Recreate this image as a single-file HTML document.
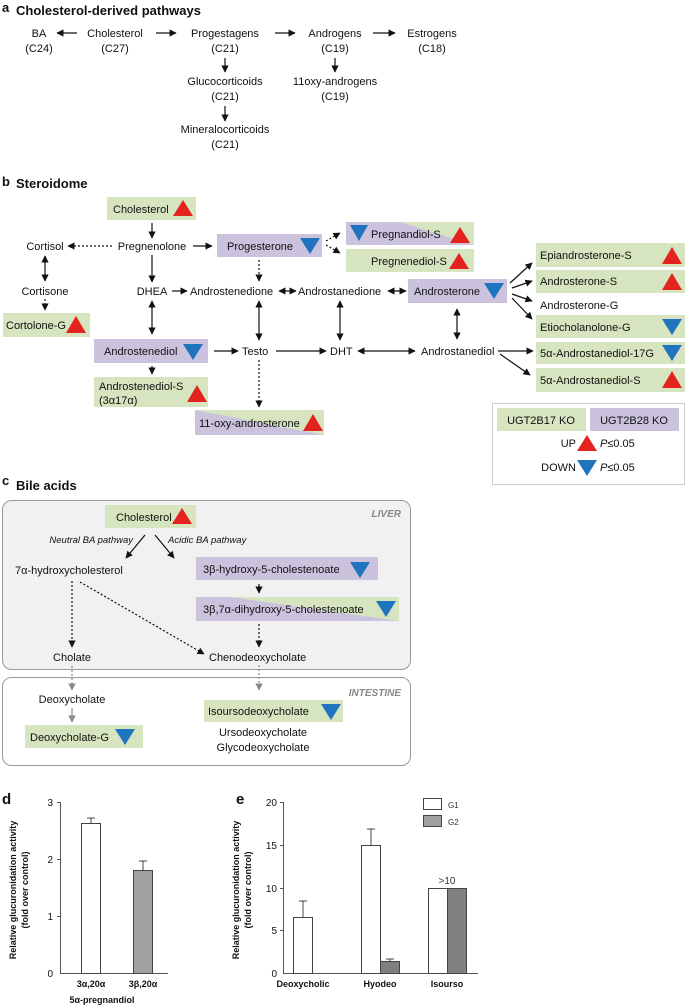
<!DOCTYPE html>
<html><head><meta charset="utf-8"><style>
html,body{margin:0;padding:0;background:#fff}
svg{display:block}
text{font-family:"Liberation Sans",Arial,sans-serif;fill:#111}
.t{font-size:11px}
.h{font-size:13px;font-weight:bold}
.it{font-size:9.5px;font-style:italic}
.ax{font-size:10px;fill:#333}
.bx{font-size:9px;font-weight:bold}
</style></head><body>
<svg width="685" height="1006" viewBox="0 0 685 1006" xmlns="http://www.w3.org/2000/svg">
<defs>
<marker id="a" viewBox="0 0 10 10" refX="9" refY="5" markerWidth="6" markerHeight="6" orient="auto-start-reverse"><path d="M0,0L10,5L0,10z" fill="#111"/></marker>
<marker id="g" viewBox="0 0 10 10" refX="9" refY="5" markerWidth="6" markerHeight="6" orient="auto-start-reverse"><path d="M0,0L10,5L0,10z" fill="#888"/></marker>
</defs>
<g stroke="#111" stroke-width="1.2" fill="none">
</g>
<!-- Part a -->
<text x="2" y="12" class="h">a</text>
<text x="16" y="15" class="h">Cholesterol-derived pathways</text>
<g class="t" text-anchor="middle">
<text x="39" y="37">BA</text><text x="39" y="52">(C24)</text>
<text x="115" y="37">Cholesterol</text><text x="115" y="52">(C27)</text>
<text x="225" y="37">Progestagens</text><text x="225" y="52">(C21)</text>
<text x="335" y="37">Androgens</text><text x="335" y="52">(C19)</text>
<text x="432" y="37">Estrogens</text><text x="432" y="52">(C18)</text>
<text x="225" y="85">Glucocorticoids</text><text x="225" y="100">(C21)</text>
<text x="335" y="85">11oxy-androgens</text><text x="335" y="100">(C19)</text>
<text x="225" y="133">Mineralocorticoids</text><text x="225" y="148">(C21)</text>
</g>
<g stroke="#111" stroke-width="1.2" fill="none" marker-end="url(#a)">
<line x1="77" y1="33" x2="57" y2="33"/>
<line x1="156" y1="33" x2="176" y2="33"/>
<line x1="275" y1="33" x2="295" y2="33"/>
<line x1="373" y1="33" x2="395" y2="33"/>
<line x1="225" y1="58" x2="225" y2="72"/>
<line x1="335" y1="58" x2="335" y2="72"/>
<line x1="225" y1="106" x2="225" y2="121"/>
</g>

<!-- Part b -->
<text x="2" y="186" class="h">b</text>
<text x="16" y="188" class="h">Steroidome</text>
<!-- boxes -->
<g>
<rect x="107" y="197" width="89" height="23" fill="#d6e4c0"/>
<rect x="217" y="234" width="105" height="23" fill="#cbc3de"/>
<rect x="346" y="222" width="128" height="23" fill="#cbc3de"/>
<polygon points="400,222 474,222 474,245" fill="#d6e4c0"/>
<rect x="346" y="249" width="128" height="23" fill="#d6e4c0"/>
<rect x="3" y="313" width="87" height="24" fill="#d6e4c0"/>
<rect x="94" y="339" width="114" height="24" fill="#cbc3de"/>
<rect x="94" y="377" width="114" height="30" fill="#d6e4c0"/>
<rect x="408" y="279" width="99" height="24" fill="#cbc3de"/>
<rect x="195" y="410" width="129" height="25" fill="#cbc3de"/>
<polygon points="195,410 324,410 324,435" fill="#d6e4c0"/>
<rect x="536" y="243" width="149" height="24" fill="#d6e4c0"/>
<rect x="536" y="270" width="149" height="23" fill="#d6e4c0"/>
<rect x="536" y="315" width="149" height="23" fill="#d6e4c0"/>
<rect x="536" y="342" width="149" height="22" fill="#d6e4c0"/>
<rect x="536" y="368" width="149" height="24" fill="#d6e4c0"/>
</g>
<!-- triangles -->
<g>
<polygon points="183,200 193,216 173,216" fill="#e4231f"/>
<polygon points="300,238 320,238 310,254" fill="#1f74bd"/>
<polygon points="350,225 368,225 359,241" fill="#1f74bd"/>
<polygon points="460,227 470,243 450,243" fill="#e4231f"/>
<polygon points="459,253 469,269 449,269" fill="#e4231f"/>
<polygon points="76,316 86,333 66,333" fill="#e4231f"/>
<polygon points="183,344 203,344 193,360" fill="#1f74bd"/>
<polygon points="197,385 207,402 187,402" fill="#e4231f"/>
<polygon points="484,283 504,283 494,299" fill="#1f74bd"/>
<polygon points="313,414 323,431 303,431" fill="#e4231f"/>
<polygon points="672,247 682,264 662,264" fill="#e4231f"/>
<polygon points="672,273 682,290 662,290" fill="#e4231f"/>
<polygon points="662,319 682,319 672,335" fill="#1f74bd"/>
<polygon points="662,345 682,345 672,361" fill="#1f74bd"/>
<polygon points="672,371 682,388 662,388" fill="#e4231f"/>
</g>
<g class="t">
<text x="113" y="213">Cholesterol</text>
<text x="152" y="250" text-anchor="middle">Pregnenolone</text>
<text x="45" y="250" text-anchor="middle">Cortisol</text>
<text x="227" y="250">Progesterone</text>
<text x="371" y="238">Pregnandiol-S</text>
<text x="371" y="265">Pregnenediol-S</text>
<text x="45" y="295" text-anchor="middle">Cortisone</text>
<text x="6" y="329">Cortolone-G</text>
<text x="152" y="295" text-anchor="middle">DHEA</text>
<text x="190" y="295">Androstenedione</text>
<text x="298" y="295">Androstanedione</text>
<text x="414" y="295">Androsterone</text>
<text x="104" y="355">Androstenediol</text>
<text x="242" y="355">Testo</text>
<text x="330" y="355">DHT</text>
<text x="421" y="355">Androstanediol</text>
<text x="99" y="390">Androstenediol-S</text>
<text x="99" y="404">(3α17α)</text>
<text x="199" y="427">11-oxy-androsterone</text>
<text x="540" y="259">Epiandrosterone-S</text>
<text x="540" y="285">Androsterone-S</text>
<text x="540" y="309">Androsterone-G</text>
<text x="540" y="331">Etiocholanolone-G</text>
<text x="540" y="357">5α-Androstanediol-17G</text>
<text x="540" y="384">5α-Androstanediol-S</text>
</g>
<g stroke="#111" stroke-width="1.2" fill="none" marker-end="url(#a)">
<line x1="152" y1="223" x2="152" y2="238"/>
<line x1="112" y1="246" x2="68" y2="246" stroke-dasharray="2,2"/>
<line x1="193" y1="246" x2="212" y2="246"/>
<line x1="152" y1="255" x2="152" y2="282"/>
<line x1="45" y1="256" x2="45" y2="281" marker-start="url(#a)"/>
<line x1="45" y1="299" x2="45" y2="310" stroke-dasharray="2,2"/>
<line x1="259" y1="260" x2="259" y2="281" stroke-dasharray="2,2"/>
<line x1="326" y1="241" x2="340" y2="233" stroke-dasharray="2,2"/>
<line x1="326" y1="245" x2="340" y2="253" stroke-dasharray="2,2"/>
<line x1="172" y1="291" x2="187" y2="291"/>
<line x1="279" y1="291" x2="296" y2="291" marker-start="url(#a)"/>
<line x1="152" y1="301" x2="152" y2="334" marker-start="url(#a)"/>
<line x1="259" y1="301" x2="259" y2="340" marker-start="url(#a)"/>
<line x1="340" y1="301" x2="340" y2="340" marker-start="url(#a)"/>
<line x1="388" y1="291" x2="406" y2="291" marker-start="url(#a)"/>
<line x1="457" y1="309" x2="457" y2="339" marker-start="url(#a)"/>
<line x1="214" y1="351" x2="238" y2="351"/>
<line x1="276" y1="351" x2="326" y2="351"/>
<line x1="358" y1="351" x2="415" y2="351" marker-start="url(#a)"/>
<line x1="152" y1="366" x2="152" y2="374"/>
<line x1="259" y1="360" x2="259" y2="407" stroke-dasharray="2,2"/>
<line x1="510" y1="283" x2="532" y2="263"/>
<line x1="512" y1="288" x2="532" y2="281"/>
<line x1="512" y1="294" x2="532" y2="301"/>
<line x1="512" y1="298" x2="532" y2="319"/>
<line x1="498" y1="351" x2="533" y2="351"/>
<line x1="500" y1="354" x2="530" y2="375"/>
</g>
<!-- legend -->
<rect x="492.5" y="403.5" width="192" height="81" fill="#fff" stroke="#ccc"/>
<rect x="497" y="408" width="89" height="23" fill="#d6e4c0"/>
<rect x="590" y="408" width="89" height="23" fill="#cbc3de"/>
<g class="t">
<text x="541" y="424" text-anchor="middle">UGT2B17 KO</text>
<text x="634" y="424" text-anchor="middle">UGT2B28 KO</text>
<text x="576" y="447" text-anchor="end">UP</text>
<text x="600" y="447"><tspan font-style="italic">P</tspan>≤0.05</text>
<text x="576" y="471" text-anchor="end">DOWN</text>
<text x="600" y="471"><tspan font-style="italic">P</tspan>≤0.05</text>
</g>
<polygon points="587,435 597,451 577,451" fill="#e4231f"/>
<polygon points="577,460 597,460 587,476" fill="#1f74bd"/>

<!-- Part c -->
<text x="2" y="485" class="h">c</text>
<text x="16" y="490" class="h">Bile acids</text>
<rect x="2.5" y="500.5" width="408" height="169" rx="9" fill="#f1f1f1" stroke="#999"/>
<rect x="2.5" y="677.5" width="408" height="88" rx="9" fill="#fff" stroke="#999"/>
<text x="401" y="517" text-anchor="end" style="font-size:10px;font-weight:bold;font-style:italic;fill:#888">LIVER</text>
<text x="401" y="696" text-anchor="end" style="font-size:10px;font-weight:bold;font-style:italic;fill:#888">INTESTINE</text>
<rect x="105" y="505" width="91" height="23" fill="#d6e4c0"/>
<rect x="196" y="557" width="182" height="23" fill="#cbc3de"/>
<rect x="196" y="597" width="203" height="24" fill="#cbc3de"/>
<polygon points="230,597 399,597 399,621" fill="#d6e4c0"/>
<rect x="25" y="725" width="118" height="23" fill="#d6e4c0"/>
<rect x="204" y="700" width="139" height="22" fill="#d6e4c0"/>
<polygon points="182,508 192,524 172,524" fill="#e4231f"/>
<polygon points="350,562 370,562 360,578" fill="#1f74bd"/>
<polygon points="376,601 396,601 386,617" fill="#1f74bd"/>
<polygon points="115,729 135,729 125,745" fill="#1f74bd"/>
<polygon points="321,704 341,704 331,720" fill="#1f74bd"/>
<g class="t">
<text x="116" y="521">Cholesterol</text>
<text x="133" y="543" text-anchor="end" class="it">Neutral BA pathway</text>
<text x="168" y="543" class="it">Acidic BA pathway</text>
<text x="15" y="574">7α-hydroxycholesterol</text>
<text x="203" y="573">3β-hydroxy-5-cholestenoate</text>
<text x="203" y="613">3β,7α-dihydroxy-5-cholestenoate</text>
<text x="72" y="661" text-anchor="middle">Cholate</text>
<text x="209" y="661">Chenodeoxycholate</text>
<text x="72" y="703" text-anchor="middle">Deoxycholate</text>
<text x="30" y="741">Deoxycholate-G</text>
<text x="208" y="715">Isoursodeoxycholate</text>
<text x="263" y="736" text-anchor="middle">Ursodeoxycholate</text>
<text x="263" y="751" text-anchor="middle">Glycodeoxycholate</text>
</g>
<g stroke="#111" stroke-width="1.2" fill="none" marker-end="url(#a)">
<line x1="145" y1="535" x2="126" y2="558"/>
<line x1="155" y1="535" x2="174" y2="558"/>
<line x1="72" y1="581" x2="72" y2="647" stroke-dasharray="2,2"/>
<line x1="80" y1="582" x2="204" y2="654" stroke-dasharray="2,2"/>
<line x1="259" y1="584" x2="259" y2="593"/>
<line x1="259" y1="624" x2="259" y2="647" stroke-dasharray="2,2"/>
</g>
<g stroke="#888" stroke-width="1.2" fill="none" marker-end="url(#g)">
<line x1="72" y1="666" x2="72" y2="690" stroke-dasharray="2,2"/>
<line x1="72" y1="708" x2="72" y2="722"/>
<line x1="259" y1="665" x2="259" y2="690" stroke-dasharray="2,2"/>
</g>

<!-- Part d -->
<text x="2" y="804" class="h" style="font-size:15px">d</text>
<g stroke="#555" stroke-width="1" fill="none">
<line x1="60.5" y1="802" x2="60.5" y2="973.5"/>
<line x1="60" y1="973.5" x2="168" y2="973.5"/>
<line x1="57" y1="802.5" x2="60" y2="802.5"/><line x1="57" y1="859.5" x2="60" y2="859.5"/><line x1="57" y1="916.5" x2="60" y2="916.5"/>
</g>
<g class="ax" text-anchor="end">
<text x="53" y="806">3</text><text x="53" y="863">2</text><text x="53" y="920">1</text><text x="53" y="977">0</text>
</g>
<rect x="81.5" y="823.5" width="19" height="150" fill="#fff" stroke="#444"/>
<path d="M91,823V818M87,818H95" stroke="#444" fill="none"/>
<rect x="133.5" y="870.5" width="19" height="103" fill="#a0a0a0" stroke="#444"/>
<path d="M143,870V861M139,861H147" stroke="#444" fill="none"/>
<text x="91" y="987" class="bx" text-anchor="middle">3α,20α</text>
<text x="143" y="987" class="bx" text-anchor="middle">3β,20α</text>
<text x="102" y="1003" class="bx" text-anchor="middle">5α-pregnandiol</text>
<text transform="translate(16,890) rotate(-90)" class="bx" text-anchor="middle">Relative glucuronidation activity</text>
<text transform="translate(28,890) rotate(-90)" class="bx" text-anchor="middle">(fold over control)</text>

<!-- Part e -->
<text x="236" y="804" class="h" style="font-size:15px">e</text>
<g stroke="#555" stroke-width="1" fill="none">
<line x1="283.5" y1="802" x2="283.5" y2="973.5"/>
<line x1="283" y1="973.5" x2="478" y2="973.5"/>
<line x1="280" y1="802.5" x2="283" y2="802.5"/><line x1="280" y1="845.5" x2="283" y2="845.5"/><line x1="280" y1="888.5" x2="283" y2="888.5"/><line x1="280" y1="930.5" x2="283" y2="930.5"/>
</g>
<g class="ax" text-anchor="end">
<text x="277" y="806">20</text><text x="277" y="849">15</text><text x="277" y="892">10</text><text x="277" y="934">5</text><text x="277" y="977">0</text>
</g>
<rect x="293.5" y="917.5" width="19" height="56" fill="#fff" stroke="#444"/>
<path d="M303,917V901M299,901H307" stroke="#444" fill="none"/>
<rect x="361.5" y="845.5" width="19" height="128" fill="#fff" stroke="#444"/>
<path d="M371,845V829M367,829H375" stroke="#444" fill="none"/>
<rect x="380.5" y="961.5" width="19" height="12" fill="#808080" stroke="#444"/>
<path d="M390,961V959M386,959H394" stroke="#444" fill="none"/>
<rect x="428.5" y="888.5" width="19" height="85" fill="#fff" stroke="#444"/>
<rect x="447.5" y="888.5" width="19" height="85" fill="#808080" stroke="#444"/>
<text x="447" y="884" class="ax" text-anchor="middle">&gt;10</text>
<rect x="423.5" y="798.5" width="18" height="11" fill="#fff" stroke="#444"/>
<rect x="423.5" y="815.5" width="18" height="11" fill="#a0a0a0" stroke="#444"/>
<text x="448" y="808" style="font-size:8px;fill:#333">G1</text>
<text x="448" y="825" style="font-size:8px;fill:#333">G2</text>
<text x="303" y="987" class="bx" text-anchor="middle">Deoxycholic</text>
<text x="380" y="987" class="bx" text-anchor="middle">Hyodeo</text>
<text x="447" y="987" class="bx" text-anchor="middle">Isourso</text>
<text transform="translate(239,890) rotate(-90)" class="bx" text-anchor="middle">Relative glucuronidation activity</text>
<text transform="translate(251,890) rotate(-90)" class="bx" text-anchor="middle">(fold over control)</text>
</svg>
</body></html>
